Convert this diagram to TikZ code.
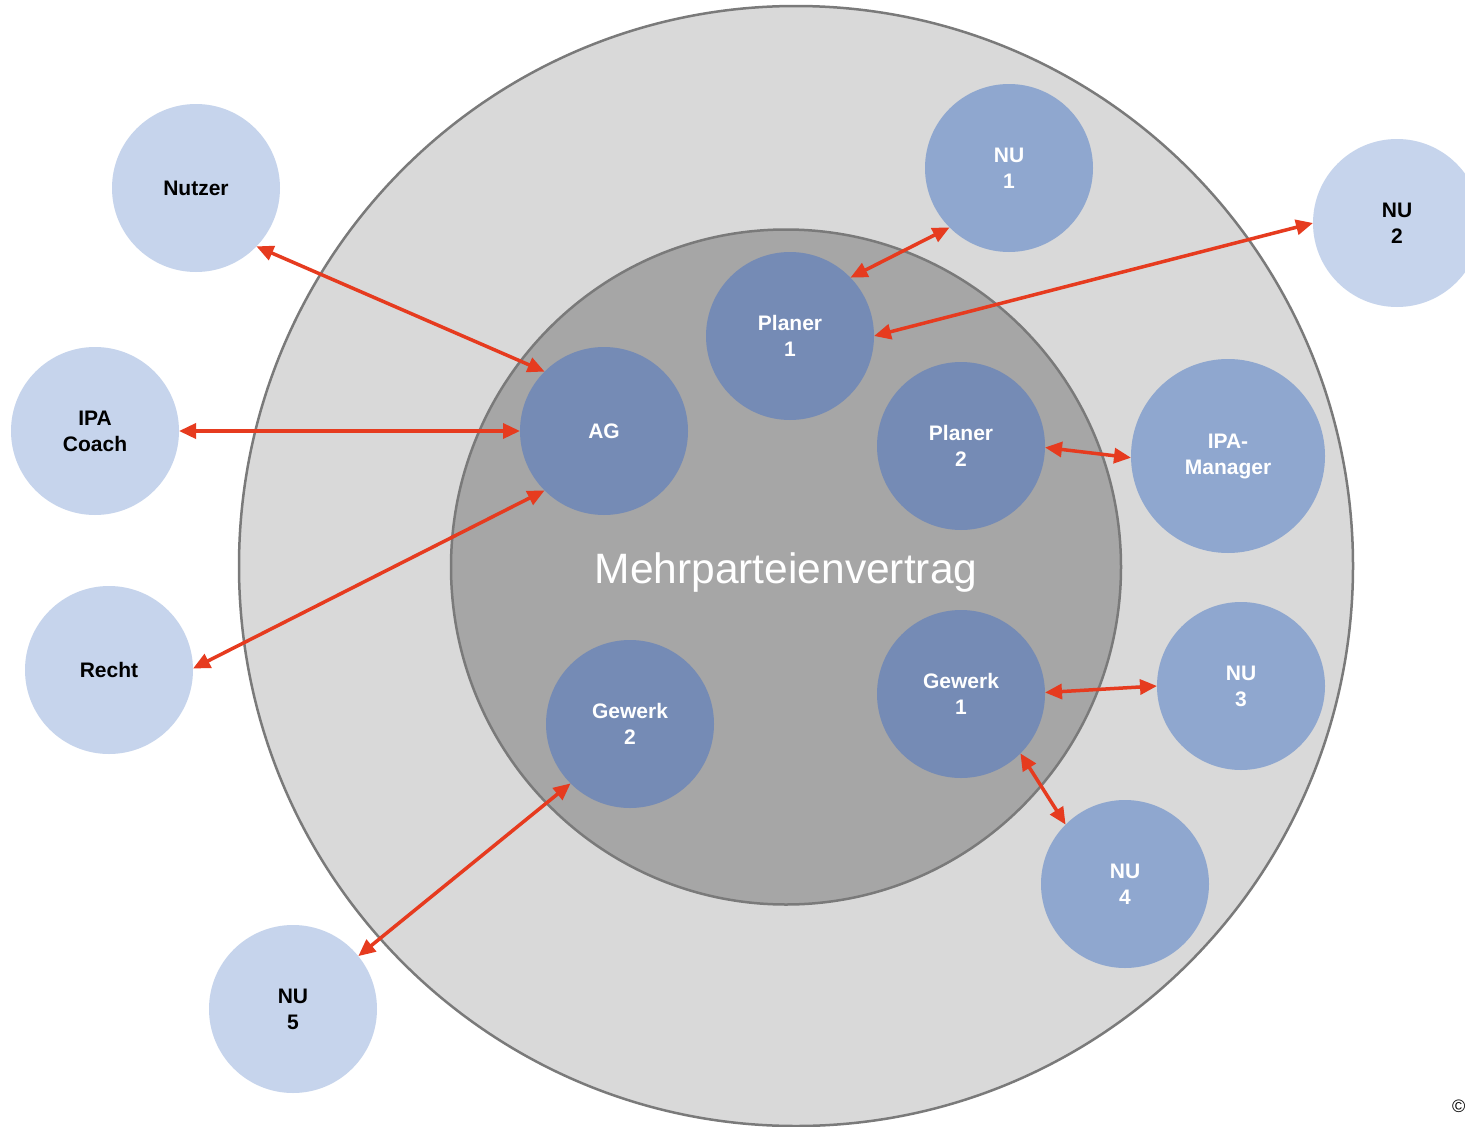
\documentclass[tikz,border=0pt]{standalone}
\usepackage{fontspec}
\setmainfont{Liberation Sans}
\usetikzlibrary{arrows.meta,shapes.geometric}
\definecolor{ringfill}{HTML}{D9D9D9}
\definecolor{ringline}{HTML}{7A7A7A}
\definecolor{corefill}{HTML}{A6A6A6}
\definecolor{innerblue}{HTML}{758BB5}
\definecolor{midblue}{HTML}{8FA7CF}
\definecolor{lightblue}{HTML}{C6D4EC}
\definecolor{arrowred}{HTML}{E63B1F}
\begin{document}
\begin{tikzpicture}[x=1pt,y=-1pt,
  party/.style={circle, minimum size=168pt, inner sep=0pt, outer sep=0pt, align=center,
    font=\bfseries\fontsize{21}{26}\selectfont},
  innerparty/.style={party, fill=innerblue, text=white},
  ringparty/.style={party, fill=midblue, text=white},
  outparty/.style={party, fill=lightblue, text=black},
  zone/.style={ellipse, inner sep=0pt, outer sep=0pt, draw=ringline, line width=2.5pt},
  link/.style={draw=arrowred, line width=3.5pt,
    {Triangle[length=17pt,width=15pt]}-{Triangle[length=17pt,width=15pt]}}
]
\useasboundingbox (0,0) rectangle (1465,1127);
\fill[white] (0,0) rectangle (1465,1127);

% zones
\node[zone, fill=ringfill, minimum width=1114pt, minimum height=1120pt] (outerzone) at (796,566) {};
\node[zone, fill=corefill, minimum width=670pt, minimum height=675pt] (corezone) at (786,567) {};
\node[text=white, font=\fontsize{42.5}{50}\selectfont] (title) at (786,573) {Mehrparteienvertrag};

% inner parties
\node[innerparty] (ag) at (604,431) {AG};
\node[innerparty] (planer1) at (790,336) {Planer\\1};
\node[innerparty] (planer2) at (961,446) {Planer\\2};
\node[innerparty] (gewerk2) at (630,724) {Gewerk\\2};
\node[innerparty] (gewerk1) at (961,694) {Gewerk\\1};

% ring parties
\node[ringparty] (nu1) at (1009,168) {NU\\1};
\node[ringparty, minimum size=194pt] (ipam) at (1228,456) {IPA-\\Manager};
\node[ringparty] (nu3) at (1241,686) {NU\\3};
\node[ringparty] (nu4) at (1125,884) {NU\\4};

% outside parties
\node[outparty] (nutzer) at (196,188) {Nutzer};
\node[outparty] (coach) at (95,431) {IPA\\Coach};
\node[outparty] (recht) at (109,670) {Recht};
\node[outparty] (nu5) at (293,1009) {NU\\5};
\node[outparty] (nu2) at (1397,223) {NU\\2};

% links
\draw[link] (nutzer.-44) -- (ag.135);
\draw[link] (coach.east) -- (ag.west);
\draw[link] (recht.1) -- (ag.225);
\draw[link] (nu5.39) -- (gewerk2.225);
\draw[link] (planer1.44) -- (nu1.225);
\draw[link] (planer1.east) -- (nu2.west);
\draw[link] (planer2.-1) -- (ipam.181);
\draw[link] (gewerk1.1) -- (nu3.180);
\draw[link] (gewerk1.-45) -- (nu4.135);

% copyright mark at the edge
\node[font=\fontsize{18}{20}\selectfont, anchor=west, inner sep=0pt] (copy) at (1452,1106) {©};
\end{tikzpicture}
\end{document}
